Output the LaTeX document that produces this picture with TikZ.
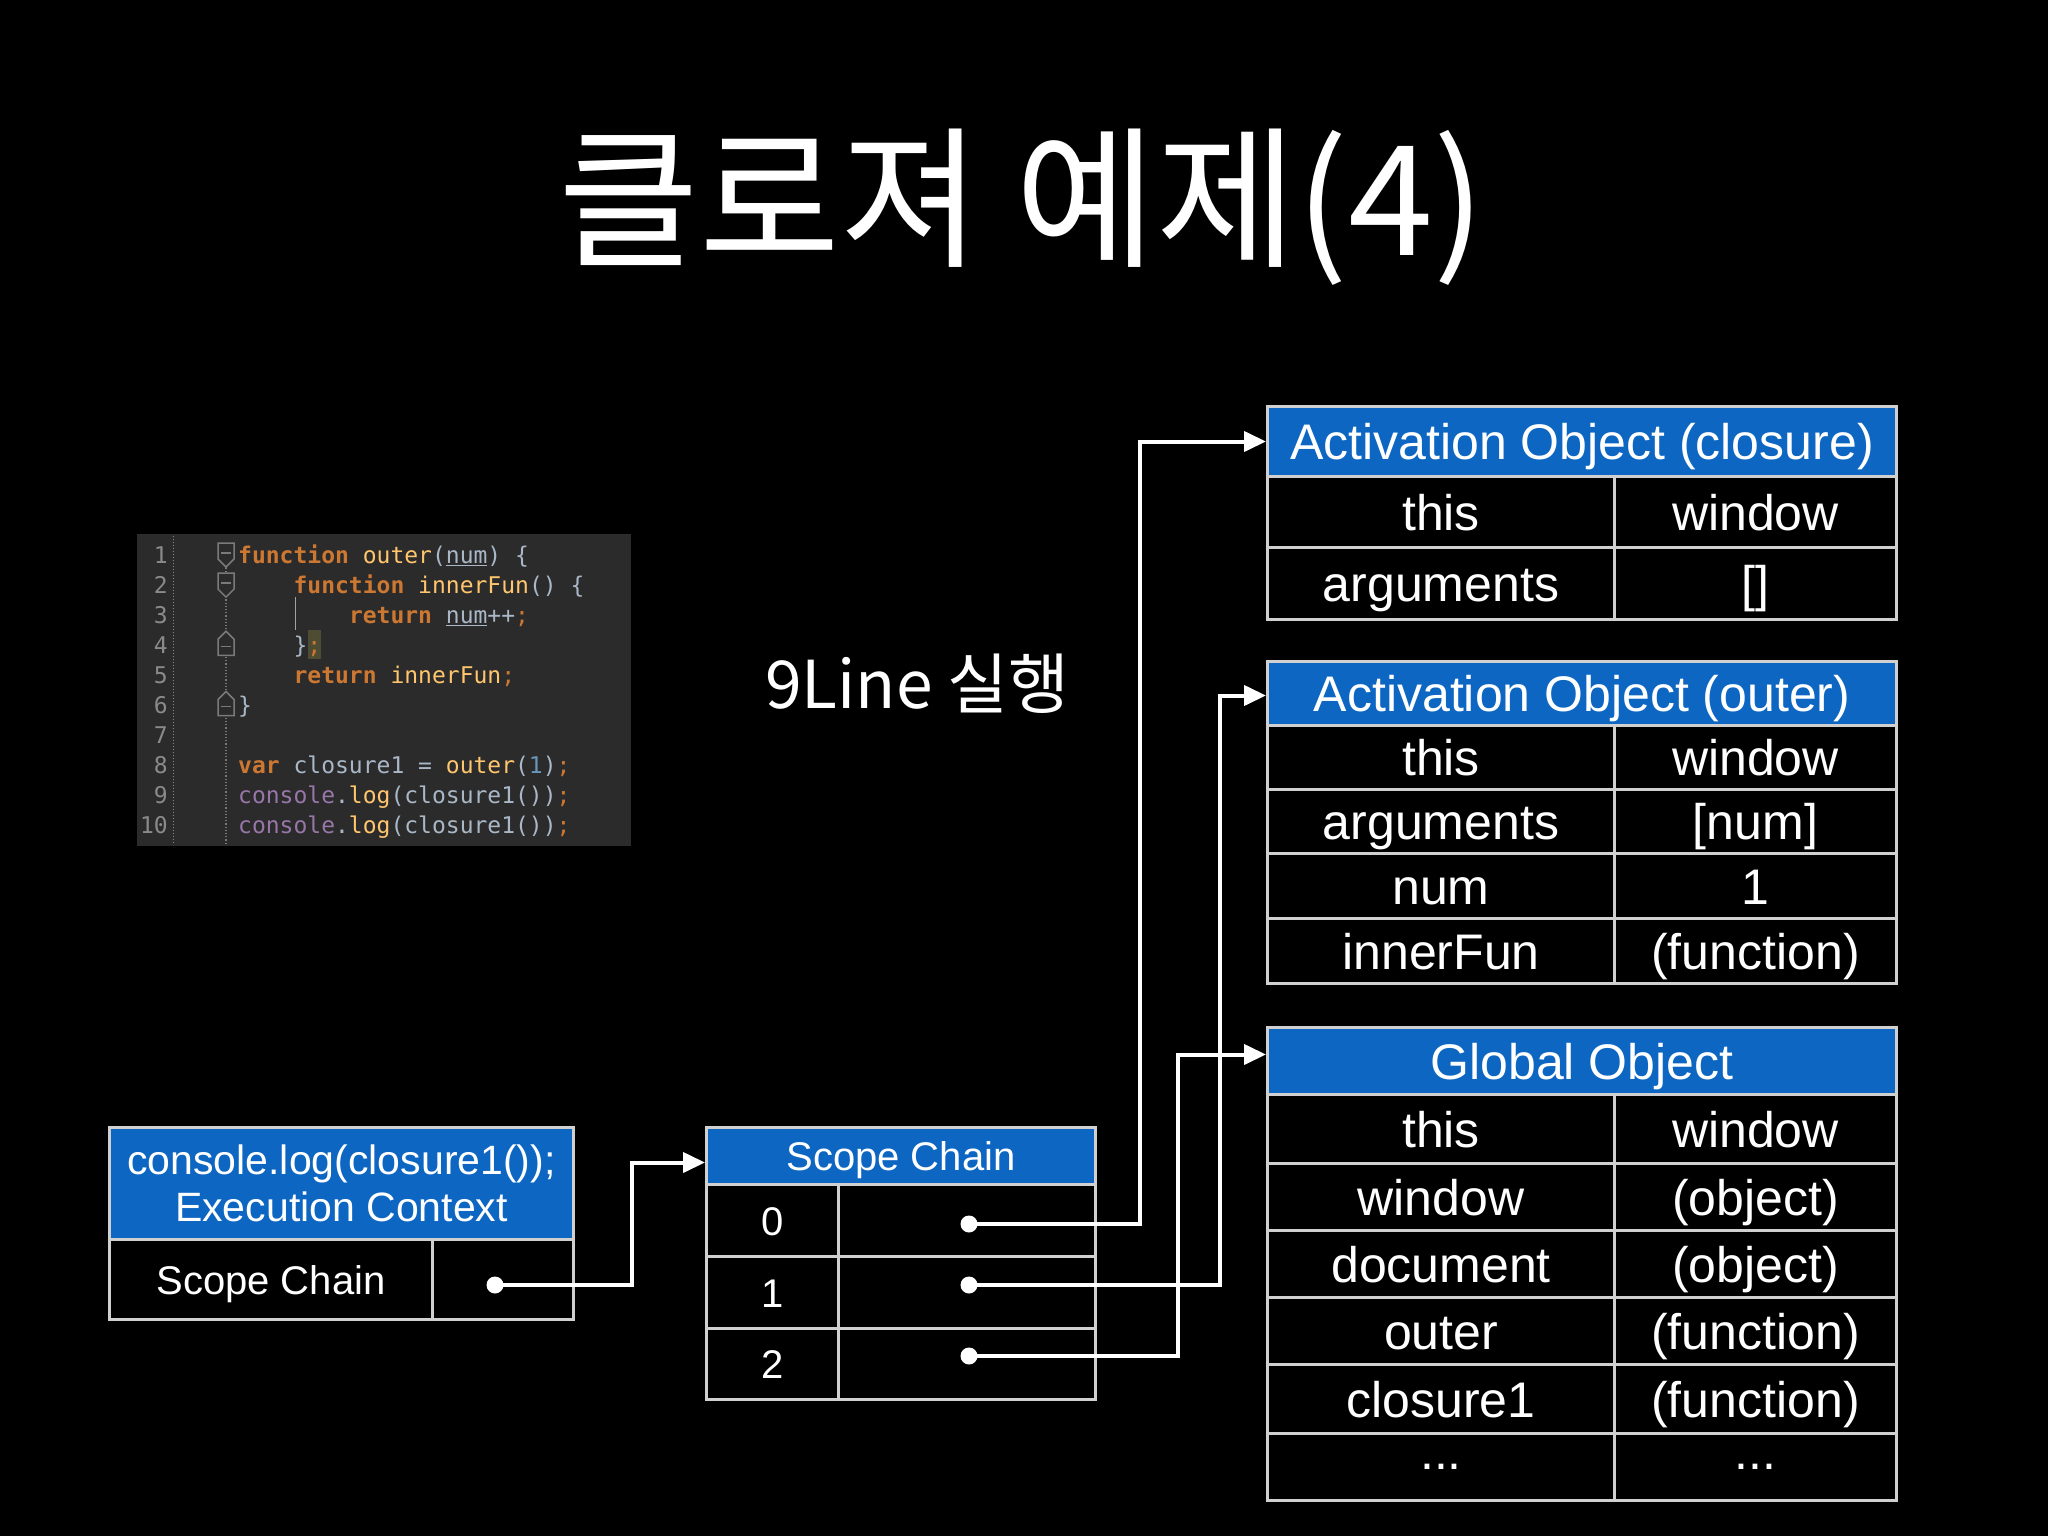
\documentclass[tikz,border=0pt]{standalone}
\usepackage{fontspec}
\setmainfont{Liberation Sans}
\newfontfamily\krfont{Noto Sans CJK KR}
\newfontfamily\codefont{DejaVu Sans Mono}
\usetikzlibrary{arrows.meta}
\definecolor{hdrblue}{HTML}{0D66C2}
\definecolor{bordc}{HTML}{D0D0D0}
\definecolor{codebg}{HTML}{2B2B2B}
\definecolor{kwc}{HTML}{CC7832}
\definecolor{fnc}{HTML}{FFC66D}
\definecolor{idc}{HTML}{A9B7C6}
\definecolor{numc}{HTML}{6897BB}
\definecolor{conc}{HTML}{9876AA}
\definecolor{lnc}{HTML}{8A8A8A}
\definecolor{foldc}{HTML}{7A7A7A}
\definecolor{hlc}{HTML}{4F4C34}
\newcommand{\kw}[1]{\textcolor{kwc}{\bfseries #1}}
\newcommand{\pun}[1]{\textcolor{kwc}{#1}}
\newcommand{\fnn}[1]{\textcolor{fnc}{#1}}
\newcommand{\numl}[1]{\textcolor{numc}{#1}}
\newcommand{\cons}[1]{\textcolor{conc}{#1}}
\newcommand{\unl}[1]{\underline{#1}}
\tikzset{
  cellbase/.style={draw=bordc, line width=3pt, fill=black, text=white, inner sep=0pt, anchor=north west},
  cell/.style={cellbase, font=\fontsize{50}{60}\selectfont, text height=36pt, text depth=0pt},
  cellplain/.style={cellbase, font=\fontsize{50}{60}\selectfont},
  hcell/.style={cell, fill=hdrblue},
  scell/.style={cellbase, font=\fontsize{40}{48}\selectfont, text height=29pt, text depth=0pt},
  shcell/.style={scell, fill=hdrblue},
  dot/.style={circle, fill=white, inner sep=0pt, minimum size=17pt},
  conn/.style={draw=white, line width=4pt, -{Triangle[length=22pt,width=20pt]}},
  codeline/.style={anchor=base west, inner sep=0pt, text=idc, font=\codefont\fontsize{23}{28}\selectfont},
  lnum/.style={anchor=base east, inner sep=0pt, text=lnc, font=\codefont\fontsize{23}{28}\selectfont},
  foldmark/.style={draw=foldc, line width=1.5pt, fill=codebg},
}
\begin{document}
\begin{tikzpicture}[x=1pt,y=-1pt]
\fill[black] (0,0) rectangle (2048,1536);
\useasboundingbox (0,0) rectangle (2048,1536);

% title
\node[text=white, font=\krfont\fontsize{153}{153}\selectfont] (title) at (1022,207) {클로져 예제(4)};
\node[text=white, font=\krfont\fontsize{66}{70}\selectfont] (sub) at (917,684) {9Line 실행};

% code box
\fill[codebg] (137,534) rectangle (631,846);
\draw[lnc, line width=1pt, dotted] (173,536) -- (173,845);
\draw[foldc, line width=1.2pt, dotted] (226,545) -- (226,845);
\draw[foldc!70, line width=1pt] (295,597) -- (295,630);
\fill[hlc] (308,630) rectangle (321,659);
\foreach \b in {563, 593.1} {
  \draw[foldmark] (218,\b-20) -- (234,\b-20) -- (234,\b-4) -- (226,\b+4) -- (218,\b-4) -- cycle;
  \draw[foldc, line width=1.5pt] (221,\b-10) -- (231,\b-10);
}
\foreach \b in {653.3, 713.5} {
  \draw[foldmark] (218,\b+2) -- (234,\b+2) -- (234,\b-14) -- (226,\b-22) -- (218,\b-14) -- cycle;
  \draw[foldc, line width=1.5pt] (221,\b-7) -- (231,\b-7);
}
\foreach \n in {1,...,10} {
  \node[lnum] (ln\n) at (168,{563+(\n-1)*30.1}) {\n};
}
\node[codeline] (c1) at (238,563) {\kw{function} \fnn{outer}(\unl{num}) \{};
\node[codeline] (c2) at (293.4,593.1) {\kw{function} \fnn{innerFun}() \{};
\node[codeline] (c3) at (348.8,623.2) {\kw{return} \unl{num}++\pun{;}};
\node[codeline] (c4) at (293.4,653.3) {\}\pun{;}};
\node[codeline] (c5) at (293.4,683.4) {\kw{return} \fnn{innerFun}\pun{;}};
\node[codeline] (c6) at (238,713.5) {\}};
\node[codeline] (c8) at (238,773.7) {\kw{var} closure1 = \fnn{outer}(\numl{1})\pun{;}};
\node[codeline] (c9) at (238,803.8) {\cons{console}.\fnn{log}(closure1())\pun{;}};
\node[codeline] (c10) at (238,833.9) {\cons{console}.\fnn{log}(closure1())\pun{;}};

% execution context
\node[cellbase, fill=hdrblue, minimum width=464, minimum height=112, align=center, font=\fontsize{41}{47}\selectfont] (ech) at (108,1126) {console.log(closure1());\\Execution Context};
\node[scell, minimum width=323, minimum height=80] (ecl) at (108,1238) {Scope Chain};
\node[scell, minimum width=141, minimum height=80] (ecv) at (431,1238) {};
\node[dot] (e0) at (495,1285) {};

% scope chain
\node[shcell, minimum width=389, minimum height=57] (sch) at (705,1126) {Scope Chain};
\node[scell, minimum width=132, minimum height=72] (si0) at (705,1183) {0};
\node[scell, minimum width=257, minimum height=72] (sv0) at (837,1183) {};
\node[scell, minimum width=132, minimum height=72] (si1) at (705,1255) {1};
\node[scell, minimum width=257, minimum height=72] (sv1) at (837,1255) {};
\node[scell, minimum width=132, minimum height=71] (si2) at (705,1327) {2};
\node[scell, minimum width=257, minimum height=71] (sv2) at (837,1327) {};
\node[dot] (d0) at (969,1224) {};
\node[dot] (d1) at (969,1285) {};
\node[dot] (d2) at (969,1356) {};

% activation object (closure)
\node[hcell, minimum width=629, minimum height=70] (aoc) at (1266,405) {Activation Object (closure)};
\node[cell, minimum width=347, minimum height=71] (aoc1a) at (1266,475) {this};
\node[cell, minimum width=282, minimum height=71] (aoc1b) at (1613,475) {window};
\node[cell, minimum width=347, minimum height=72] (aoc2a) at (1266,546) {arguments};
\node[cell, minimum width=282, minimum height=72] (aoc2b) at (1613,546) {[]};

% activation object (outer)
\node[hcell, minimum width=629, minimum height=64] (aoo) at (1266,660) {Activation Object (outer)};
\node[cell, minimum width=347, minimum height=64] (aoo1a) at (1266,724) {this};
\node[cell, minimum width=282, minimum height=64] (aoo1b) at (1613,724) {window};
\node[cell, minimum width=347, minimum height=64] (aoo2a) at (1266,788) {arguments};
\node[cell, minimum width=282, minimum height=64] (aoo2b) at (1613,788) {[num]};
\node[cell, minimum width=347, minimum height=65] (aoo3a) at (1266,852) {num};
\node[cell, minimum width=282, minimum height=65] (aoo3b) at (1613,852) {1};
\node[cell, minimum width=347, minimum height=65] (aoo4a) at (1266,917) {innerFun};
\node[cell, minimum width=282, minimum height=65] (aoo4b) at (1613,917) {(function)};

% global object
\node[hcell, minimum width=629, minimum height=67] (glo) at (1266,1026) {Global Object};
\node[cell, minimum width=347, minimum height=69] (glo1a) at (1266,1093) {this};
\node[cell, minimum width=282, minimum height=69] (glo1b) at (1613,1093) {window};
\node[cell, minimum width=347, minimum height=67] (glo2a) at (1266,1162) {window};
\node[cell, minimum width=282, minimum height=67] (glo2b) at (1613,1162) {(object)};
\node[cell, minimum width=347, minimum height=67] (glo3a) at (1266,1229) {document};
\node[cell, minimum width=282, minimum height=67] (glo3b) at (1613,1229) {(object)};
\node[cell, minimum width=347, minimum height=67] (glo4a) at (1266,1296) {outer};
\node[cell, minimum width=282, minimum height=67] (glo4b) at (1613,1296) {(function)};
\node[cell, minimum width=347, minimum height=69] (glo5a) at (1266,1363) {closure1};
\node[cell, minimum width=282, minimum height=69] (glo5b) at (1613,1363) {(function)};
\node[cellplain, minimum width=347, minimum height=67] (glo6a) at (1266,1432) {...};
\node[cellplain, minimum width=282, minimum height=67] (glo6b) at (1613,1432) {...};

% connectors
\draw[conn] (e0.center) -- ++(137,0) |- ([yshift=-6.5pt]sch.west);
\draw[conn] (d0.center) -- ++(171,0) |- (aoc.west);
\draw[conn] (d1.center) -- ++(251,0) |- ([yshift=-2pt]aoo.west);
\draw[conn] (d2.center) -- ++(209,0) |- ([yshift=6.5pt]glo.west);
\end{tikzpicture}
\end{document}
